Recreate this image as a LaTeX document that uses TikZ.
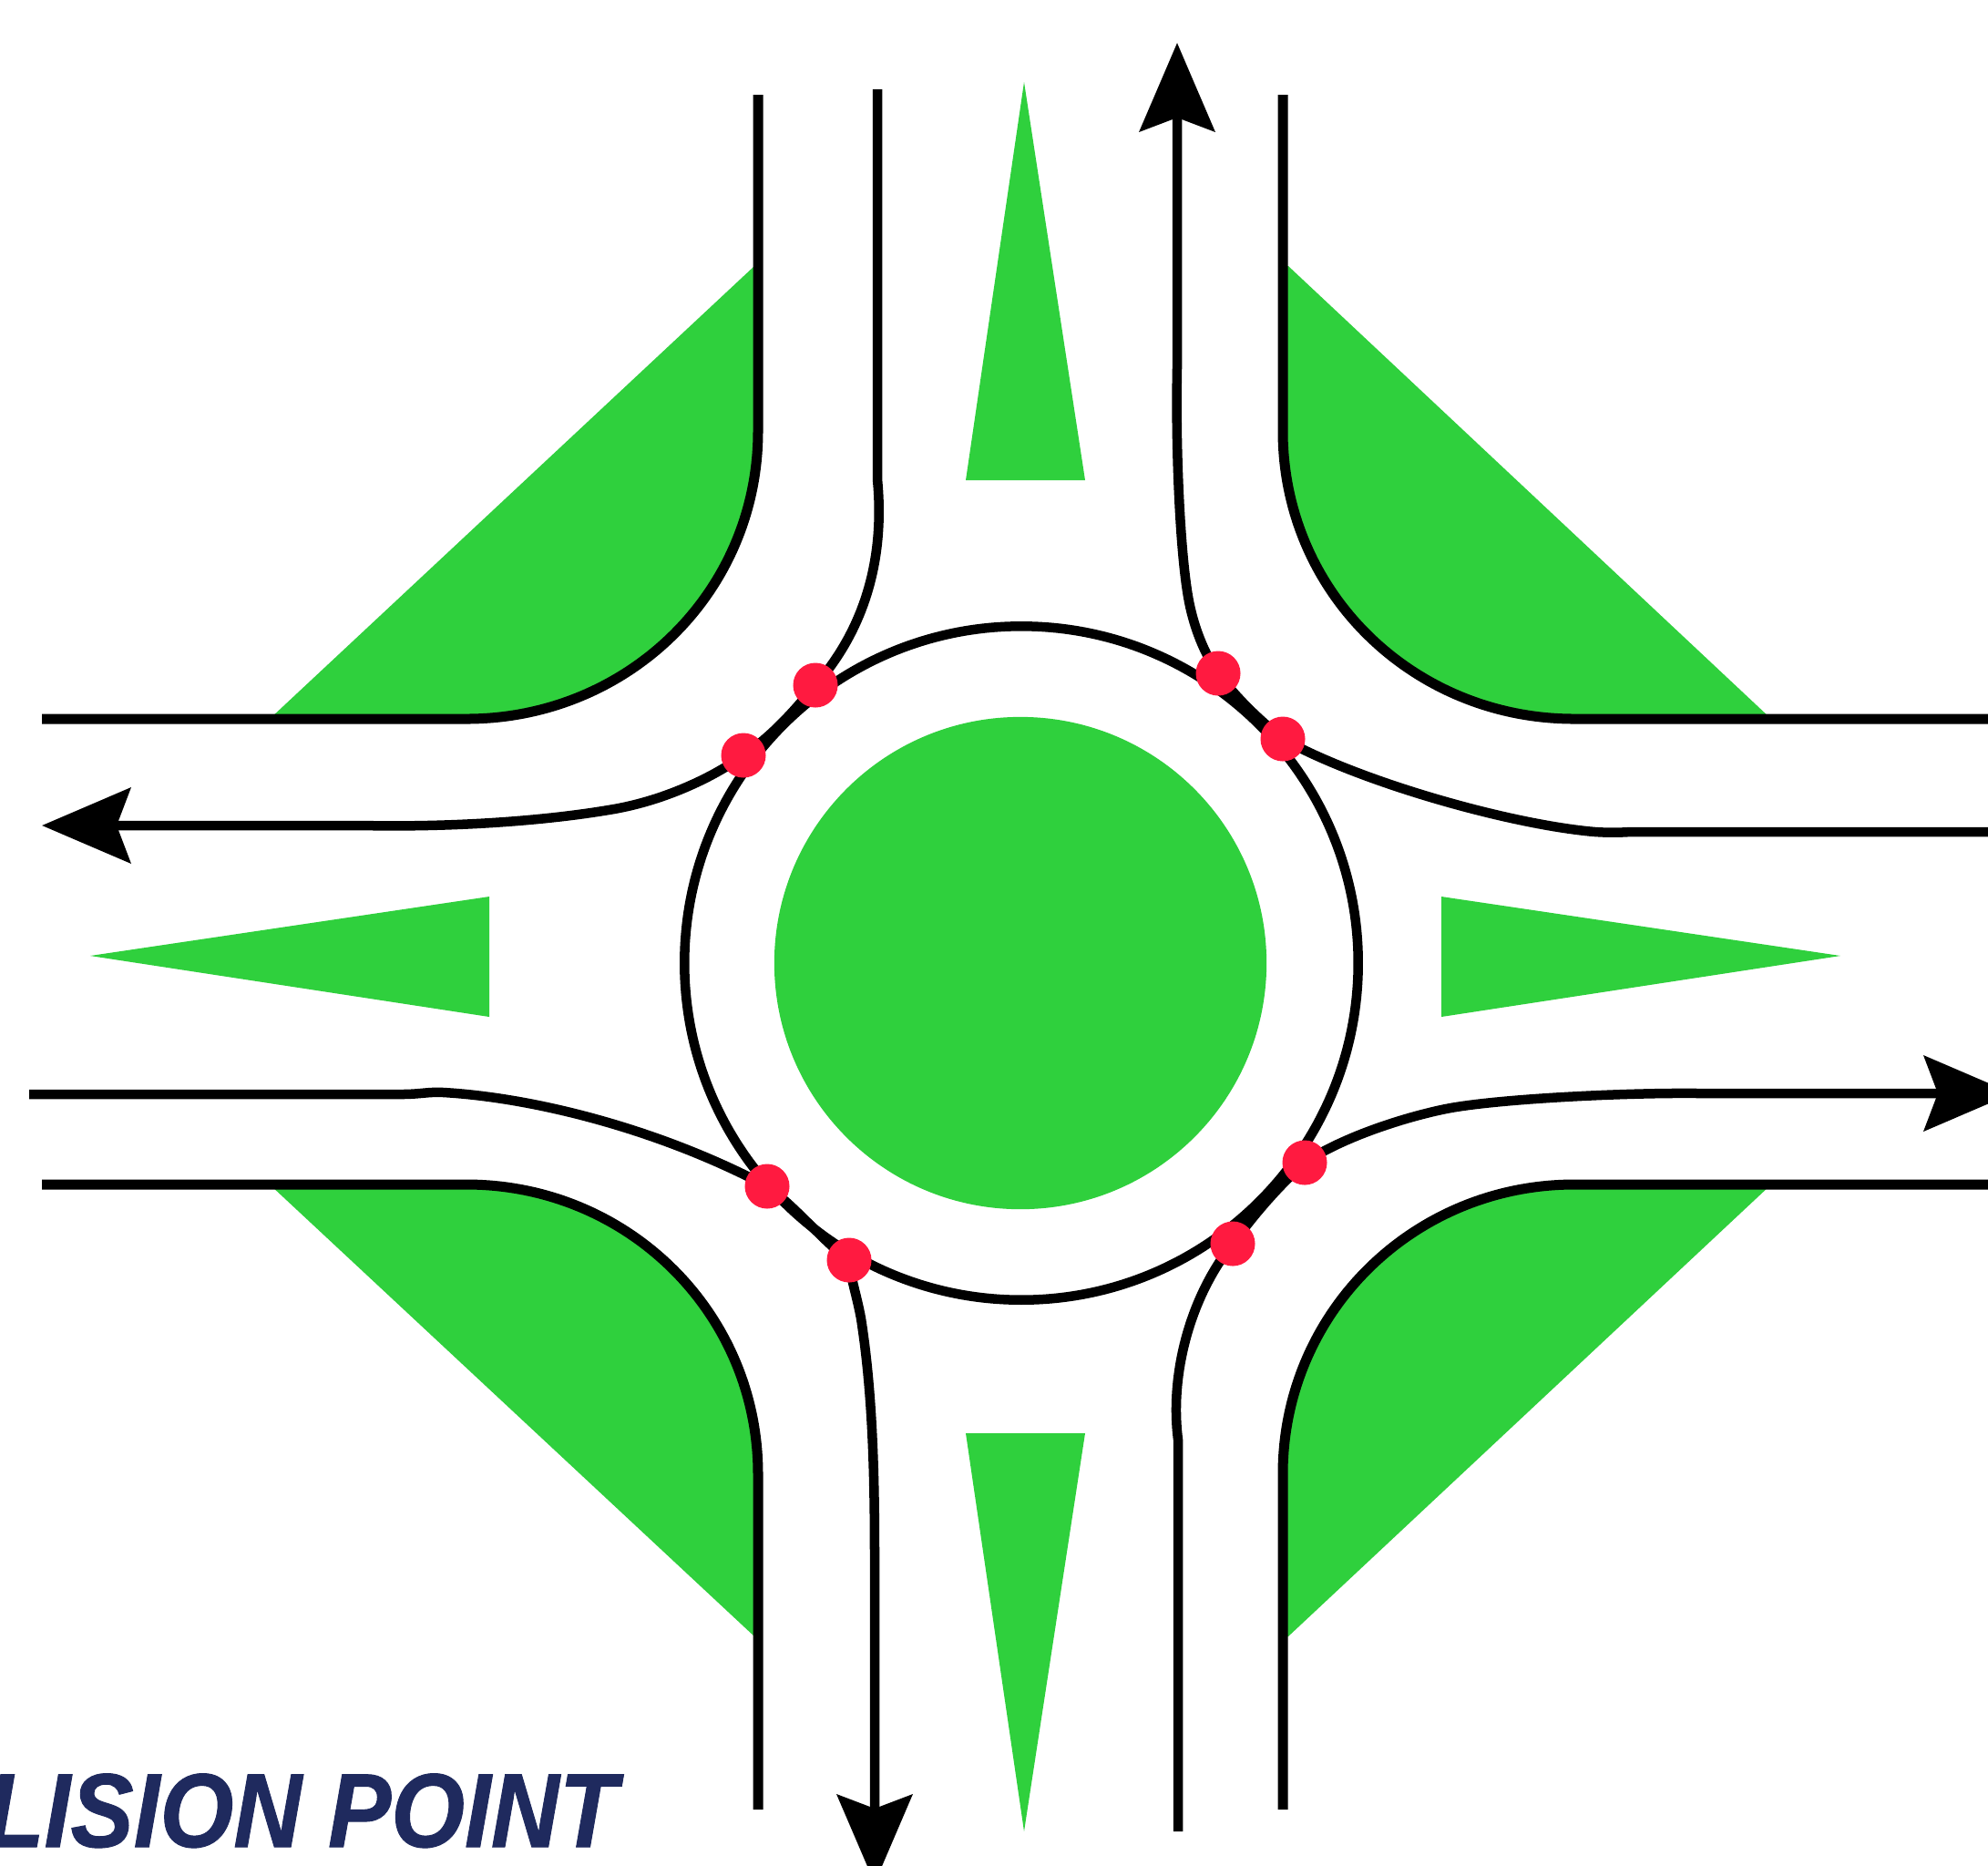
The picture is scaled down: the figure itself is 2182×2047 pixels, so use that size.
\documentclass[tikz,border=0pt]{standalone}
\usepackage{fontspec}
\setmainfont{Liberation Sans}
\newfontfamily\labfont{Liberation Sans}[BoldItalicFeatures={FakeBold=0.8,FakeStretch=0.9}]
\usepackage{xcolor}
\usetikzlibrary{arrows.meta}
\definecolor{islandgreen}{HTML}{2FD03D}
\definecolor{hitred}{HTML}{FF1A40}
\definecolor{labnavy}{HTML}{1F2A5E}

\begin{document}
\begin{tikzpicture}[
  x=0.01cm, y=-0.01cm,
  island/.style={fill=islandgreen},
  kerb/.style={draw=black, line width=0.11cm},
  lane/.style={draw=black, line width=0.105cm},
  tip/.style={-{Stealth[length=0.97cm, width=0.82cm, inset=0.15cm]}},
  hit/.style={circle, fill=hitred, minimum size=0.49cm, inner sep=0pt},
  lab/.style={font=\labfont\bfseries\itshape\fontsize{32.8}{34}\selectfont, text=labnavy, inner sep=0pt}
]
  \useasboundingbox (0,0) rectangle (2182,2047);

  % conflict points
  \coordinate (NWa) at (895,752);
  \coordinate (NWb) at (816,829);
  \coordinate (NEa) at (1337,739);
  \coordinate (NEb) at (1408,811);
  \coordinate (SEa) at (1432,1276);
  \coordinate (SEb) at (1353,1365);
  \coordinate (SWa) at (842,1302);
  \coordinate (SWb) at (932,1383);

  % corner islands
  \fill[island] (828,292) -- (296,789) -- (512,789) .. controls (689,789) and (832,650) .. (832,473) -- (832,292) -- cycle;
  \fill[island] (1414,292) -- (1944,789) -- (1728,789) .. controls (1551,789) and (1408,650) .. (1408,473) -- (1408,292) -- cycle;
  \fill[island] (296,1300) -- (828,1796) -- (832,1796) -- (832,1618) .. controls (832,1441) and (689,1300) .. (512,1300) -- cycle;
  \fill[island] (1944,1300) -- (1414,1796) -- (1408,1796) -- (1408,1618) .. controls (1408,1441) and (1551,1300) .. (1728,1300) -- cycle;

  % splitter islands
  \fill[island] (1124,90) -- (1060,527) -- (1191,527) -- cycle;
  \fill[island] (1124,2010) -- (1060,1573) -- (1191,1573) -- cycle;
  \fill[island] (99,1049) -- (537,984) -- (537,1116) -- cycle;
  \fill[island] (2020,1049) -- (1582,984) -- (1582,1116) -- cycle;

  % central island and circulating ring
  \fill[island] (1120,1057) circle[radius=2.70cm];
  \draw[lane] (1121,1057) circle[radius=3.695cm];

  % kerbs
  \draw[kerb] (832,104) -- (832,473) .. controls (832,650) and (689,789) .. (512,789) -- (46,789);
  \draw[kerb] (1408,104) -- (1408,473) .. controls (1408,650) and (1551,789) .. (1728,789) -- (2182,789);
  \draw[kerb] (46,1300) -- (512,1300) .. controls (689,1300) and (832,1441) .. (832,1618) -- (832,1986);
  \draw[kerb] (2182,1300) -- (1728,1300) .. controls (1551,1300) and (1408,1441) .. (1408,1618) -- (1408,1986);

  % vehicle paths
  \draw[lane, tip] (963,98) -- (963,526) .. controls (972,620) and (945,695) .. (NWa)
    .. controls (870,782) and (848,807) .. (NWb)
    .. controls (780,855) and (725,880) .. (668,889)
    .. controls (590,902) and (490,908) .. (397,906) -- (46,906);
  \draw[lane, tip] (2182,913) -- (1790,913) .. controls (1775,914) and (1760,914) .. (1745,912.5)
    .. controls (1650,903) and (1490,857) .. (NEb)
    .. controls (1385,792) and (1360,770) .. (NEa)
    .. controls (1325,722) and (1313,697) .. (1306,665)
    .. controls (1296,620) and (1290,500) .. (1292,404) -- (1292,47);
  \draw[lane, tip] (1293,2010) -- (1293,1580) .. controls (1284,1510) and (1305,1425) .. (SEb)
    .. controls (1375,1335) and (1400,1305) .. (SEa)
    .. controls (1475,1247) and (1545,1225.4) .. (1587,1217)
    .. controls (1640,1206.4) and (1780,1199) .. (1865,1200) -- (2209,1200);
  \draw[lane, tip] (32,1201) -- (440,1201) .. controls (462,1201) and (470,1198) .. (487,1199)
    .. controls (590,1205) and (727,1241) .. (SWa)
    .. controls (875,1326) and (905,1364) .. (SWb)
    .. controls (934,1405) and (940,1420) .. (945,1447)
    .. controls (958,1530) and (960,1620) .. (960,1712) -- (960,2067);

  % points on top of the paths
  \foreach \P in {NWa,NWb,NEa,NEb,SEa,SEb,SWa,SWb} {
    \node[hit] (dot\P) at (\P) {};
  }

  % label, cut off by the page edge
  \node[lab, anchor=base east] (hitlabel) at (678,2027) {LISION POINT};
\end{tikzpicture}
\end{document}
